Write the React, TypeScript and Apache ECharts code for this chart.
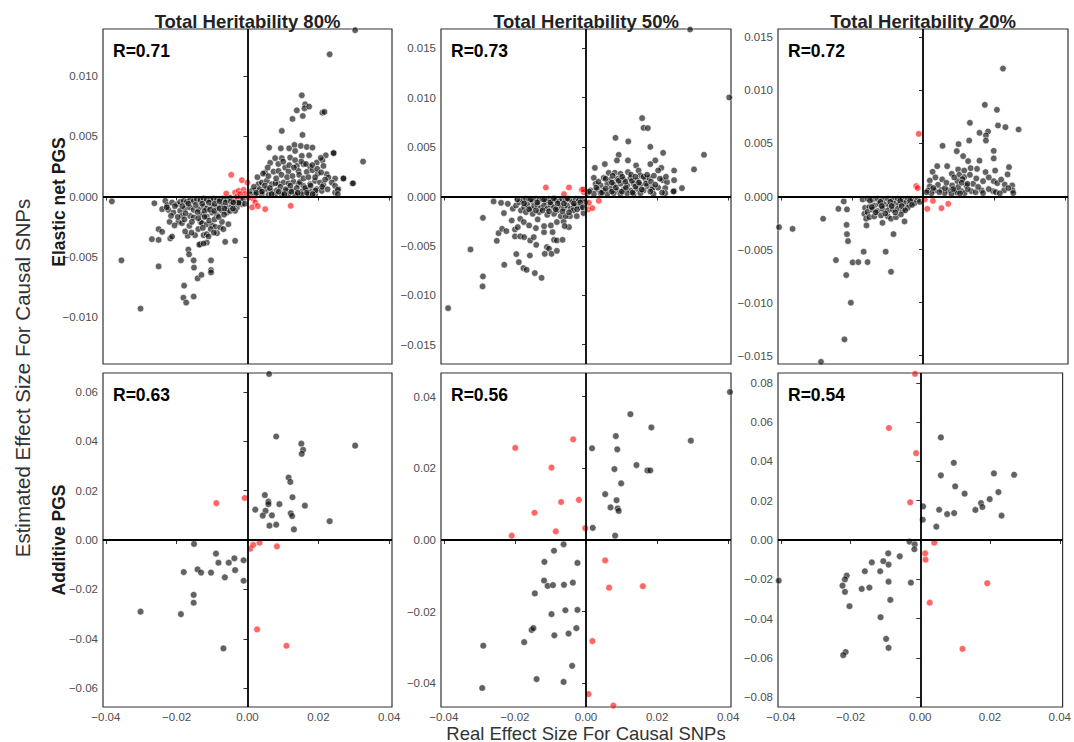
import React, { useEffect, useRef } from "react";
import * as echarts from "echarts";

const FONT = "'Liberation Sans', Arial, Helvetica, sans-serif";

// ---------- data (x = real effect, y = estimated effect) ----------
const p1Black: number[][] = [
  [-0.0263,-0.00056],[-0.0232,-0.00036],[-0.0227,-0.00072],[-0.0213,-0.0005],[-0.0199,-0.00064],[-0.019,-0.00044],[-0.018,-0.00036],[-0.0171,-0.00044],[-0.0162,-0.00028],[-0.0152,-0.00039],[-0.0143,-0.00022],[-0.0133,-0.00031],[-0.0124,-0.00017],[-0.0115,-0.00028],[-0.0105,-0.00022],[-0.0096,-0.00017],[-0.0086,-0.00028],[-0.0077,-0.00022],[-0.0068,-0.00017],[-0.0058,-0.00028],[-0.0049,-0.00011],[-0.0039,-0.00022],[-0.003,-0.00014],[-0.0021,-0.00028],
  [-0.0241,-0.00105],[-0.0223,-0.00111],[-0.0209,-0.00133],[-0.019,-0.00119],[-0.0176,-0.001],[-0.0162,-0.00091],[-0.0152,-0.00111],[-0.0138,-0.00105],[-0.0124,-0.00083],[-0.0115,-0.001],[-0.01,-0.00078],[-0.0086,-0.00091],[-0.0072,-0.00072],[-0.0058,-0.00091],[-0.0044,-0.00078],[-0.003,-0.00091],[-0.0016,-0.00064],
  [-0.0185,-0.00161],[-0.0162,-0.00161],[-0.0152,-0.00174],[-0.0129,-0.00147],[-0.0115,-0.00166],[-0.01,-0.00133],[-0.0086,-0.00155],[-0.0072,-0.00119],[-0.0058,-0.00133],[-0.0049,-0.00119],[-0.0035,-0.00119],
  [-0.022,-0.0021],[-0.0195,-0.0021],[-0.0185,-0.00221],[-0.0164,-0.00243],[-0.0133,-0.0021],[-0.0129,-0.00221],[-0.0115,-0.00232],[-0.01,-0.00238],[-0.0091,-0.00252],[-0.0077,-0.00257],[-0.0068,-0.00271],[-0.0054,-0.0023],[-0.0072,-0.0021],
  [-0.0251,-0.00271],[-0.0241,-0.00293],[-0.027,-0.00354],[-0.0251,-0.0036],[-0.0218,-0.00348],[-0.0213,-0.00332],[-0.0169,-0.00326],[-0.0148,-0.00321],[-0.0124,-0.00321],[-0.0115,-0.00313],[-0.011,-0.00332],[-0.0086,-0.00304],[-0.0063,-0.00376],[-0.0035,-0.00368],[-0.0133,-0.00395],[-0.0115,-0.00382],
  [-0.0228,-0.0009],[-0.0205,-0.0008],[-0.0184,-0.0008],[-0.0167,-0.0006],[-0.0146,-0.0007],[-0.0128,-0.0006],[-0.0109,-0.0005],[-0.0093,-0.0006],[-0.0079,-0.0004],[-0.0062,-0.0005],[-0.0047,-0.0004],[-0.0033,-0.0004],
  [-0.0216,-0.0016],[-0.0197,-0.0017],[-0.0175,-0.0014],[-0.0141,-0.0013],[-0.0121,-0.0012],[-0.0106,-0.0011],[-0.0094,-0.0012],[-0.0079,-0.001],[-0.0065,-0.001],[-0.0041,-0.001],[-0.0024,-0.0006],
  [-0.0206,-0.0024],[-0.0178,-0.0019],[-0.0157,-0.0021],[-0.0139,-0.0018],[-0.0121,-0.0017],[-0.0108,-0.002],[-0.0093,-0.0019],[-0.0081,-0.0017],[-0.0066,-0.0015],
  [-0.0176,-0.0029],[-0.0158,-0.003],[-0.0139,-0.0027],[-0.0126,-0.0026],[-0.0104,-0.0027],[-0.0095,-0.003],
  [-0.0383,-0.0004],[-0.0356,-0.0053],[-0.0302,-0.0093],[-0.0251,-0.0058],[-0.0188,-0.0053],[-0.0179,-0.0074],[-0.0181,-0.0084],[-0.0173,-0.0088],[-0.0152,-0.0083],[-0.0167,-0.0044],[-0.0165,-0.0048],[-0.0152,-0.0053],[-0.0151,-0.0059],[-0.0141,-0.0068],[-0.013,-0.0065],[-0.0103,-0.0053],[-0.0103,-0.0061],[-0.0103,-0.0063],[-0.0136,-0.004],[-0.0124,-0.0039],
  [-0.0012,-0.0002],[-0.0008,-0.0006],[-0.0025,-0.0005],[-0.004,-0.0005],
  [0.01533,0.0084],[0.01627,0.00765],[0.01608,0.00732],[0.0174,0.00746],[0.01392,0.00715],[0.01561,0.00668],[0.0127,0.00644],[0.02116,0.00696],[0.02172,0.00702],[0.00969,0.00544],[0.01552,0.00511],
  [0.00612,0.00406],[0.00941,0.004],[0.01176,0.004],[0.01326,0.00428],[0.01505,0.0042],[0.01674,0.00411],[0.01834,0.00406],[0.01345,0.00378],[0.01533,0.00337],[0.0174,0.00342],[0.0221,0.00342],[0.02436,0.00362],[0.03263,0.0029],
  [0.00781,0.00318],[0.00969,0.00318],[0.01204,0.00323],[0.01345,0.00301],[0.0158,0.00268],[0.01956,0.00282],[0.02116,0.00301],[0.02144,0.00254],[0.01768,0.00246],[0.01392,0.00254],[0.01063,0.0024],[0.0064,0.00279],[0.00734,0.00207],[0.00499,0.00199],[0.00875,0.00212],[0.01157,0.00207],[0.01439,0.00212],[0.01674,0.00204],[0.01834,0.00218],[0.01984,0.0019],[0.02238,0.00185],[0.02285,0.00157],[0.02473,0.00149],[0.02708,0.00149],[0.02962,0.00108],[0.02567,0.00061],
  [0.00311,0.00102],[0.00405,0.00116],[0.00546,0.0013],[0.00687,0.00102],[0.00875,0.00108],[0.01016,0.00116],[0.01157,0.0011],[0.01298,0.00124],[0.01439,0.00102],[0.0158,0.00088],[0.01768,0.00102],[0.01909,0.0013],[0.0205,0.00116],[0.02144,0.00096],[0.02379,0.00116],[0.02473,0.00088],
  [0.00123,0.00047],[0.00236,0.00052],[0.00386,0.00047],[0.00546,0.00061],[0.00687,0.00041],[0.00828,0.00052],[0.01016,0.00033],[0.0111,0.00047],[0.01251,0.00052],[0.01392,0.00033],[0.01533,0.00041],[0.01674,0.00052],[0.01815,0.00041],[0.01956,0.00061],[0.02097,0.00047],[0.02473,0.00033],
  [0.00076,0.00019],[0.00217,0.00014],[0.00405,0.00019],[0.00593,0.00014],[0.00781,0.00019],[0.00969,0.00014],[0.01157,0.00019],[0.01345,0.00014],[0.01533,0.00019],[0.01721,0.00014],[0.01909,0.00019],
  [0.0018,0.0008],[0.0034,0.0006],[0.0049,0.0009],[0.0063,0.0007],[0.0079,0.0011],[0.0093,0.0008],[0.0108,0.0006],[0.0121,0.0009],[0.0139,0.0007],[0.0148,0.0012],[0.0163,0.0007],[0.0178,0.0009],[0.0192,0.0005],[0.0211,0.0008],[0.0226,0.0006],
  [0.0028,0.0016],[0.0044,0.0019],[0.0059,0.0017],[0.0081,0.0015],[0.0096,0.0018],[0.0112,0.0016],[0.0127,0.0017],[0.0146,0.0018],[0.0158,0.0015],[0.0172,0.0016],[0.0191,0.0016],[0.0219,0.0014],
  [0.0057,0.0024],[0.0087,0.0027],[0.0101,0.0029],[0.0118,0.0026],[0.0131,0.0024],[0.0152,0.0029],[0.0165,0.0027],[0.0183,0.0026],[0.0197,0.0023],
  [0.0025,0.0003],[0.0041,0.0004],[0.0068,0.0002],[0.0088,0.0004],[0.0104,0.0002],[0.0124,0.0004],[0.0142,0.0003],[0.0168,0.0003],[0.0184,0.0002],
  [0.0232,0.0118],[0.0304,0.0138],[0.0298,0.0011],[0.0271,0.0015],[0.0243,0.0036],[0.0255,0.00055],[0.0255,0.0002],[0.0207,0.0032],[0.0208,0.002],
];
const p1Red: number[][] = [
  [-0.0046,0.0018],[-0.0016,0.00135],[0.0,0.00116],[-0.006,0.00025],[-0.0035,0.00033],[-0.0025,0.00047],[-0.0011,0.00055],[-0.0007,0.0002],[0.0017,-0.0002],[0.0022,-0.0005],[0.0013,-0.0009],[0.0029,-0.0008],[0.005,-0.00105],[0.0122,-0.00077],[0.0003,-0.0001],[-0.003,0.0],[-0.0021,0.0002],
];

const p2Black: number[][] = [
  [-0.0388,-0.0113],[-0.029,-0.00809],[-0.0291,-0.0091],[-0.0325,-0.00536],[-0.029,-0.00216],[-0.026,-0.0005],[-0.0239,-0.00064],[-0.022,-0.00074],[-0.0231,-0.00168],[-0.0246,-0.00371],[-0.0236,-0.00327],[-0.0251,-0.00448],[-0.0224,-0.0035],[-0.023,-0.00691],[-0.0209,-0.00243],[-0.02,-0.00334],[-0.0192,-0.0031],[-0.02,-0.00404],[-0.0185,-0.00226],[-0.0185,-0.00404],[-0.0174,-0.00411],[-0.0175,-0.00259],[-0.016,-0.00293],[-0.0157,-0.00445],[-0.0196,-0.00583],[-0.0189,-0.00664],[-0.0176,-0.00725],[-0.0167,-0.00742],[-0.0158,-0.00597],[-0.0144,-0.00775],[-0.0125,-0.00823],[-0.014,-0.00489],[-0.0147,-0.00411],[-0.0141,-0.0032],[-0.0136,-0.00232],[-0.0118,-0.00361],[-0.011,-0.00512],[-0.0104,-0.00529],[-0.0116,-0.0058],[-0.0097,-0.0058],[-0.0082,-0.0055],[-0.009,-0.00438],[-0.0082,-0.00445],[-0.0066,-0.00438],[-0.0094,-0.00361],[-0.0118,-0.003],[-0.0099,-0.00293],[-0.0082,-0.00259],[-0.0063,-0.00252],[-0.0048,-0.0031],[-0.006,-0.003],[-0.0045,-0.00199],[-0.0026,-0.00199],[-0.0007,-0.00168],[-0.0026,-0.00091],
  [-0.0206,-0.00124],[-0.0197,-0.00091],[-0.0188,-0.00057],[-0.0178,-0.0004],[-0.0169,-0.00023],[-0.016,-0.0003],[-0.015,-0.0005],[-0.0141,-0.00023],[-0.0132,-0.0004],[-0.0123,-0.0003],[-0.0113,-0.0005],[-0.0104,-0.00023],[-0.0095,-0.0004],[-0.0085,-0.0003],[-0.0076,-0.0005],[-0.0067,-0.00023],[-0.0057,-0.0004],[-0.0048,-0.0003],[-0.0039,-0.0005],[-0.0029,-0.00023],[-0.002,-0.0004],[-0.0011,-0.0003],[-0.0002,-0.00057],
  [-0.0183,-0.00141],[-0.0174,-0.00108],[-0.0165,-0.00084],[-0.0155,-0.00124],[-0.0146,-0.00097],[-0.0137,-0.00084],[-0.0127,-0.00118],[-0.0118,-0.00091],[-0.0109,-0.00124],[-0.01,-0.00084],[-0.009,-0.00108],[-0.0081,-0.00141],[-0.0071,-0.00097],[-0.0062,-0.00118],[-0.0053,-0.00091],[-0.0043,-0.00124],[-0.0034,-0.00097],[-0.0015,-0.00108],
  [-0.0169,-0.00158],[-0.015,-0.00175],[-0.0132,-0.00158],[-0.0109,-0.00185],[-0.009,-0.00175],[-0.0071,-0.00199],[-0.0057,-0.00199],[-0.0036,-0.00141],
  [-0.0193,-0.0003],[-0.0174,-0.0007],[-0.0155,-0.0003],[-0.0137,-0.0006],[-0.0118,-0.0003],[-0.01,-0.0006],[-0.009,-0.0002],[-0.008,-0.0007],[-0.0062,-0.0007],[-0.0052,-0.0002],[-0.0034,-0.0007],[-0.0016,-0.0006],
  [-0.016,-0.0013],[-0.0141,-0.0014],[-0.0122,-0.0014],[-0.0104,-0.0015],[-0.0085,-0.0013],[-0.0066,-0.0015],[-0.0048,-0.0016],[-0.0025,-0.0013],[-0.0009,-0.0011],
  [0.0158,0.00793],[0.0162,0.00695],[0.0174,0.00692],[0.0083,0.00594],[0.0119,0.00557],[0.0181,0.00503],[0.0217,0.00442],[0.0332,0.00422],[0.0092,0.00422],[0.0087,0.00365],[0.0118,0.00365],[0.0195,0.00365],[0.0181,0.00328],[0.0053,0.00328],[0.0141,0.00314],[0.0212,0.0029],[0.0304,0.00274],[0.0025,0.0029],[0.0248,0.00263],[0.0203,0.00263],[0.0064,0.0024],[0.0081,0.0024],[0.0097,0.0023],[0.0118,0.00247],[0.0148,0.00263],[0.0153,0.00213],[0.0022,0.00189],[0.005,0.00189],[0.0069,0.00169],[0.0088,0.00179],[0.0106,0.00172],[0.0125,0.00189],[0.0144,0.00162],[0.0167,0.00179],[0.0178,0.00189],[0.0216,0.00165],[0.0228,0.00145],[0.0248,0.00165],
  [0.0027,0.00129],[0.0041,0.00112],[0.006,0.00129],[0.0078,0.00118],[0.0097,0.00129],[0.0116,0.00112],[0.0134,0.00129],[0.0153,0.00118],[0.0172,0.00105],[0.0188,0.00095],[0.0223,0.00085],[0.027,0.00085],[0.0013,0.00061],[0.0032,0.00071],[0.005,0.00061],[0.0069,0.00078],[0.0088,0.00061],[0.0106,0.00071],[0.0125,0.00061],[0.0144,0.00078],[0.0162,0.00061],[0.0186,0.00071],[0.0248,0.00054],[0.0004,0.00037],[0.0022,0.00027],[0.0041,0.00034],[0.006,0.00027],[0.0078,0.00034],[0.0097,0.00027],[0.0116,0.00034],[0.0134,0.00027],[0.0153,0.00034],[0.019,0.00027],[0.0223,0.00034],
  [0.0009,0.0005],[0.0029,0.0009],[0.0045,0.0004],[0.0055,0.0008],[0.0073,0.0005],[0.0084,0.0009],[0.0101,0.0005],[0.0112,0.0009],[0.0131,0.0004],[0.0139,0.001],[0.0157,0.0007],[0.0169,0.0013],[0.0181,0.0005],[0.0203,0.0009],[0.0214,0.0004],
  [0.0035,0.0015],[0.0055,0.0018],[0.0073,0.0014],[0.0092,0.0016],[0.0111,0.0015],[0.0129,0.0016],[0.0149,0.0014],[0.0162,0.002],[0.0183,0.0015],[0.0195,0.0012],[0.0208,0.0018],
  [0.0075,0.0021],[0.0102,0.002],[0.0127,0.0022],[0.0139,0.002],[0.0172,0.0022],[0.0191,0.0021],[0.0225,0.002],
  [0.0293,0.0169],[0.0403,0.01002],[0.0246,0.00051],
];
const p2Red: number[][] = [
  [-0.0113,0.00091],[-0.0062,0.00024],[-0.0048,0.00091],[-0.0012,0.00068],[-0.0006,0.00044],[0.0008,-0.00064],[0.0006,-0.00131],[0.0018,-0.00118],[0.0036,-0.00044],[-0.0008,0.00071],
];

const p3Black: number[][] = [
  [-0.017,-0.00028],[-0.0156,-0.00022],[-0.0142,-0.00028],[-0.0128,-0.00022],[-0.0114,-0.00031],[-0.0099,-0.00022],[-0.0085,-0.00028],[-0.0071,-0.00022],[-0.0057,-0.00028],[-0.0043,-0.00022],[-0.0029,-0.00028],[-0.0015,-0.00031],
  [-0.0163,-0.00107],[-0.0151,-0.001],[-0.0137,-0.00085],[-0.0123,-0.00069],[-0.0109,-0.00075],[-0.0095,-0.00085],[-0.0081,-0.00069],[-0.0067,-0.00075],[-0.0052,-0.00063],[-0.0038,-0.00075],[-0.0024,-0.00063],
  [-0.0165,-0.00163],[-0.0156,-0.00147],[-0.0142,-0.00125],[-0.0128,-0.00138],[-0.0114,-0.00116],[-0.0099,-0.00132],[-0.0085,-0.00125],[-0.0071,-0.00116],[-0.0057,-0.00132],[-0.0043,-0.00107],
  [-0.016,-0.0021],[-0.0151,-0.00195],[-0.0137,-0.00188],[-0.0118,-0.00179],[-0.0099,-0.00188],[-0.009,-0.0021],[-0.0076,-0.00195],[-0.0062,-0.00169],
  [-0.0149,-0.0004],[-0.012,-0.0005],[-0.0092,-0.0005],[-0.0064,-0.0004],[-0.0036,-0.0004],[-0.0009,-0.0005],[-0.0144,-0.001],[-0.0116,-0.0009],[-0.0088,-0.0009],[-0.006,-0.0009],[-0.0031,-0.0008],[-0.0133,-0.0015],[-0.0106,-0.0016],[-0.0078,-0.0015],[-0.005,-0.0013],
  [-0.0405,-0.00289],[-0.0367,-0.00305],[-0.0281,-0.0021],[-0.0223,-0.00047],[-0.0238,-0.00116],[-0.0214,-0.00122],[-0.0215,-0.00267],[-0.0214,-0.00355],[-0.0211,-0.00421],[-0.0245,-0.006],[-0.0216,-0.00741],[-0.0203,-0.01002],[-0.0221,-0.01348],[-0.0287,-0.0156],[-0.0198,-0.00622],[-0.0182,-0.00619],[-0.0167,-0.00521],[-0.0156,-0.00619],[-0.0105,-0.00521],[-0.009,-0.0071],[-0.0083,-0.00355],[-0.0114,-0.00248],[-0.0159,-0.00273],[-0.0052,-0.00235],
  [0.0225,0.01207],[0.0174,0.00865],[0.0208,0.00818],[0.0132,0.00695],[0.0211,0.0067],[0.0232,0.00654],[0.0269,0.00632],[0.0183,0.00613],[0.0177,0.00576],[0.0177,0.00528],[0.0159,0.00601],[0.013,0.00528],[0.0055,0.00478],[0.01,0.00494],[0.0095,0.00428],[0.0199,0.00431],[0.0113,0.00381],[0.0199,0.00359],[0.0127,0.00334],[0.0159,0.00338],[0.004,0.00286],[0.0068,0.00286],[0.0242,0.00277],[0.0099,0.00255],[0.0116,0.00245],[0.0134,0.00267],[0.0152,0.00261],[0.0203,0.00245],[0.0176,0.0023],[0.0027,0.00233],[0.0081,0.00214],[0.0102,0.00205],[0.0116,0.00183],[0.0132,0.00205],[0.0238,0.00208],
  [0.0019,0.00151],[0.0054,0.00161],[0.0097,0.00145],[0.0141,0.0012],[0.0169,0.00145],[0.0199,0.00145],[0.0209,0.00126],[0.023,0.00113],[0.0251,0.00104],[0.0122,0.00104],[0.0042,0.0011],[0.0082,0.00104],[0.0019,0.00095],[0.0033,0.00057],[0.0014,0.00057],[0.0052,0.00063],[0.0071,0.00057],[0.009,0.00057],[0.0108,0.00051],[0.0136,0.00051],[0.0165,0.00057],[0.0197,0.00051],[0.0228,0.00057],[0.0252,0.00057],[0.0024,0.00032],[0.0061,0.00032],[0.0094,0.00038],[0.0117,0.00032],[0.0169,0.00032],[0.0205,0.00041],[0.0254,0.00032],[0.008,0.00025],[0.0099,0.00088],[0.0111,0.00164],
  [0.001,0.0004],[0.0029,0.0008],[0.0046,0.0004],[0.0062,0.0008],[0.0085,0.0007],[0.0104,0.0003],[0.0126,0.0007],[0.0148,0.0004],[0.0155,0.0009],[0.0185,0.0007],[0.0216,0.0003],[0.024,0.0008],
  [0.0035,0.0018],[0.0066,0.0013],[0.0088,0.0018],[0.0109,0.0013],[0.0125,0.0012],[0.015,0.0017],[0.0185,0.0018],[0.022,0.0016],
];
const p3Red: number[][] = [
  [-0.0012,0.00591],[-0.0019,0.00098],[-0.0015,0.00079],[0.0005,-0.00028],[0.0012,-0.00116],[0.0028,-0.00041],[0.0052,-0.0011],[0.0071,-0.00069],
];

const p4Black: number[][] = [
  [0.0061,0.0672],[0.0081,0.0419],[0.0152,0.039],[0.0304,0.0382],[0.0157,0.0365],[0.0153,0.0349],[0.0116,0.0253],[0.0121,0.0235],[0.0049,0.0182],[0.0127,0.0173],[0.0059,0.0155],[0.0059,0.0145],[0.0022,0.0123],[0.0051,0.0118],[0.009,0.0145],[0.0162,0.0139],[0.0043,0.0099],[0.0069,0.01],[0.0122,0.0108],[0.0126,0.0097],[0.0232,0.0076],[0.0062,0.0058],[0.0081,0.0062],[0.0131,0.0043],
  [-0.0151,-0.0016],[-0.0089,-0.0055],[-0.0082,-0.0092],[-0.0053,-0.0092],[-0.0037,-0.0074],[-0.0011,-0.0082],[-0.0035,-0.0122],[-0.018,-0.013],[-0.0141,-0.0119],[-0.0131,-0.0132],[-0.0103,-0.0132],[-0.0064,-0.0151],[-0.0011,-0.0165],[-0.0152,-0.0222],[-0.0152,-0.0254],[-0.0188,-0.03],[-0.0302,-0.029],[-0.0068,-0.0439],
];
const p4Red: number[][] = [
  [-0.0088,0.0149],[-0.0008,0.017],[0.0008,-0.0035],[0.0016,-0.002],[0.0034,-0.0011],[0.0083,-0.0026],[0.0027,-0.0362],[0.011,-0.0428],
];

const p5Black: number[][] = [
  [0.0405,0.0413],[0.0125,0.0351],[0.0184,0.0314],[0.0295,0.0277],[0.0084,0.029],[0.0017,0.0256],[0.0088,0.0253],[0.0142,0.0209],[0.008,0.0198],[0.0173,0.0194],[0.0181,0.0194],[0.0099,0.0158],[0.0054,0.0128],[0.0086,0.0111],[0.0069,0.0091],[0.0089,0.0088],[0.0092,0.0081],[0.0019,0.0034],[0.0082,0.0012],
  [-0.0063,-0.0012],[-0.009,-0.003],[-0.0117,-0.0061],[-0.0024,-0.0064],[-0.0118,-0.0113],[-0.0108,-0.0128],[-0.0093,-0.0126],[-0.0062,-0.0125],[-0.0037,-0.0119],[-0.0144,-0.0149],[-0.0058,-0.0196],[-0.0024,-0.0195],[-0.0097,-0.0207],[-0.0153,-0.0251],[-0.0148,-0.0246],[-0.0089,-0.0266],[-0.0049,-0.0261],[-0.0027,-0.0246],[-0.0174,-0.0285],[-0.0289,-0.0295],[-0.0039,-0.0351],[-0.0139,-0.0388],[-0.0063,-0.0396],[-0.0292,-0.0413],
];
const p5Red: number[][] = [
  [-0.0036,0.0281],[-0.0199,0.0257],[-0.0097,0.0202],[-0.007,0.0106],[-0.002,0.0112],[-0.0145,0.0076],[-0.0085,0.0024],[-0.0209,0.0012],[-0.0002,0.0033],[0.0054,-0.0057],[0.0065,-0.0133],[0.016,-0.0129],[0.0018,-0.0282],[0.0007,-0.043],[0.0077,-0.0462],
];

const p6Black: number[][] = [
  [0.0059,0.0522],[0.0096,0.0393],[0.0059,0.0329],[0.0211,0.0339],[0.0269,0.0332],[0.01,0.0273],[0.0127,0.0236],[0.0224,0.0244],[0.0199,0.0208],[0.0174,0.0188],[0.0178,0.0168],[0.0008,0.0171],[0.0054,0.0154],[0.0158,0.0153],[0.0077,0.0132],[0.0097,0.0137],[0.0233,0.0124],[0.0007,0.0103],[0.0046,0.0068],
  [-0.0031,-0.0008],[-0.0016,-0.0022],[-0.0017,-0.0047],[-0.0092,-0.0068],[-0.0059,-0.0083],[-0.0139,-0.0114],[-0.0106,-0.0108],[-0.0091,-0.0125],[-0.0159,-0.0159],[-0.0115,-0.0159],[-0.0211,-0.0181],[-0.0216,-0.02],[-0.0091,-0.0212],[-0.0027,-0.0217],[-0.0223,-0.0232],[-0.0216,-0.0264],[-0.0168,-0.0249],[-0.0146,-0.0242],[-0.0203,-0.0337],[-0.0086,-0.0305],[-0.0114,-0.0393],[-0.0098,-0.0503],[-0.0091,-0.0549],[-0.0214,-0.057],[-0.0221,-0.0586],[-0.0406,-0.0207],
];
const p6Red: number[][] = [
  [-0.0015,0.0846],[-0.009,0.057],[-0.0012,0.0442],[-0.0029,0.0192],[0.004,-0.0014],[0.0014,-0.0068],[0.0015,-0.01],[0.0027,-0.0319],[0.0192,-0.022],[0.0121,-0.0554],
];

const columnTitles = ["Total Heritability 80%", "Total Heritability 50%", "Total Heritability 20%"];
const rowLabels = ["Elastic net PGS", "Additive PGS"];
const rLabels = ["R=0.71", "R=0.73", "R=0.72", "R=0.63", "R=0.56", "R=0.54"];
const xTitle = "Real Effect Size For Causal SNPs";
const yTitle = "Estimated Effect Size For Causal SNPs";

const xLimit = 0.0408;
const xTicks = [-0.04, -0.02, 0, 0.02, 0.04];
const yLimits = [0.0139, 0.01695, 0.0158, 0.0676, 0.0466, 0.085];
const yTicks: number[][] = [
  [-0.01, -0.005, 0, 0.005, 0.01],
  [-0.015, -0.01, -0.005, 0, 0.005, 0.01, 0.015],
  [-0.015, -0.01, -0.005, 0, 0.005, 0.01, 0.015],
  [-0.06, -0.04, -0.02, 0, 0.02, 0.04, 0.06],
  [-0.04, -0.02, 0, 0.02, 0.04],
  [-0.08, -0.06, -0.04, -0.02, 0, 0.02, 0.04, 0.06, 0.08],
];
const yDecimals = [3, 3, 3, 2, 2, 2];

const blacks = [p1Black, p2Black, p3Black, p4Black, p5Black, p6Black];
const reds = [p1Red, p2Red, p3Red, p4Red, p5Red, p6Red];

// ---------- layout ----------
const colLeft = [103, 441, 778];
const colWidth = [289, 290, 290];
const rowTop = [29, 373];
const rowHeight = [335, 334];

const fmt = (d: number) => (v: number) => {
  const s = Math.abs(v).toFixed(d);
  return v < -1e-12 ? "\u2212" + s : s;
};

export default function App() {
  const ref = useRef<HTMLDivElement>(null);
  useEffect(() => {
    document.body.style.margin = "0";
    const chart = echarts.init(ref.current!, null, { renderer: "svg" });
    const grids: any[] = [];
    const xAxes: any[] = [];
    const yAxes: any[] = [];
    const series: any[] = [];
    const graphics: any[] = [];
    for (let i = 0; i < 6; i++) {
      const r = Math.floor(i / 3);
      const c = i % 3;
      grids.push({
        left: colLeft[c], top: rowTop[r], width: colWidth[c], height: rowHeight[r],
        show: true, borderColor: "#333", borderWidth: 1.2, backgroundColor: "#fff",
      });
      xAxes.push({
        type: "value", gridIndex: i, min: -xLimit, max: xLimit,
        axisLine: { show: false },
        splitLine: { show: false },
        axisTick: { show: true, customValues: xTicks, length: 4, lineStyle: { color: "#333", width: 1 } },
        axisLabel: {
          show: r === 1, customValues: xTicks, formatter: fmt(2), margin: 4, lineHeight: 12,
          color: "#4d4d4d", fontSize: 11.5, fontFamily: FONT,
        },
      });
      yAxes.push({
        type: "value", gridIndex: i, min: -yLimits[i], max: yLimits[i],
        axisLine: { show: false },
        splitLine: { show: false },
        axisTick: { show: true, customValues: yTicks[i], length: 4, lineStyle: { color: "#333", width: 1 } },
        axisLabel: {
          show: true, customValues: yTicks[i], formatter: fmt(yDecimals[i]), margin: 5,
          color: "#4d4d4d", fontSize: 11.5, fontFamily: FONT,
        },
      });
      series.push({
        type: "scatter", xAxisIndex: i, yAxisIndex: i, data: blacks[i],
        symbolSize: r === 0 ? 6.6 : 6.6, silent: true,
        itemStyle: { color: "rgba(10,10,10,0.8)", borderColor: "#ffffff", borderWidth: r === 0 ? 0.7 : 0.5 },
        emphasis: { disabled: true },
      });
      series.push({
        type: "scatter", xAxisIndex: i, yAxisIndex: i, data: reds[i],
        symbolSize: r === 0 ? 6.6 : 6.6, silent: true,
        itemStyle: { color: "rgba(255,0,0,0.75)", borderColor: "#ffffff", borderWidth: r === 0 ? 0.7 : 0.5 },
        emphasis: { disabled: true },
        markLine: {
          silent: true, symbol: ["none", "none"], label: { show: false },
          lineStyle: { color: "#000", width: 1.8, type: "solid" },
          emphasis: { disabled: true },
          data: [{ xAxis: 0 }, { yAxis: 0 }],
        },
      });
      graphics.push({
        type: "text", x: colLeft[c] + 10, y: rowTop[r] + 21.5, z: 100,
        style: { text: rLabels[i], fill: "#000", fontSize: 17.5, fontWeight: "bold", fontFamily: FONT, align: "left", verticalAlign: "middle" },
      });
    }
    for (let c = 0; c < 3; c++) {
      graphics.push({
        type: "text", x: colLeft[c] + colWidth[c] / 2, y: 21, z: 100,
        style: { text: columnTitles[c], fill: "#222", fontSize: 18.5, fontWeight: "bold", fontFamily: FONT, align: "center", verticalAlign: "middle" },
      });
    }
    const rowCenters = [202, 540];
    for (let r = 0; r < 2; r++) {
      graphics.push({
        type: "text", x: 59, y: rowCenters[r], rotation: Math.PI / 2, z: 100,
        style: { text: rowLabels[r], fill: "#1a1a1a", fontSize: 17.5, fontWeight: "bold", fontFamily: FONT, align: "center", verticalAlign: "middle" },
      });
    }
    graphics.push({
      type: "text", x: 22, y: 378, rotation: Math.PI / 2, z: 100,
      style: { text: yTitle, fill: "#333", fontSize: 20.5, fontFamily: FONT, align: "center", verticalAlign: "middle" },
    });
    graphics.push({
      type: "text", x: 586, y: 733, z: 100,
      style: { text: xTitle, fill: "#333", fontSize: 18.5, lineHeight: 17, fontFamily: FONT, align: "center", verticalAlign: "middle" },
    });

    chart.setOption({
      animation: false,
      backgroundColor: "#fff",
      grid: grids,
      xAxis: xAxes,
      yAxis: yAxes,
      series,
      graphic: graphics,
    });
    return () => chart.dispose();
  }, []);
  return <div ref={ref} style={{ width: 1074, height: 742 }} />;
}
